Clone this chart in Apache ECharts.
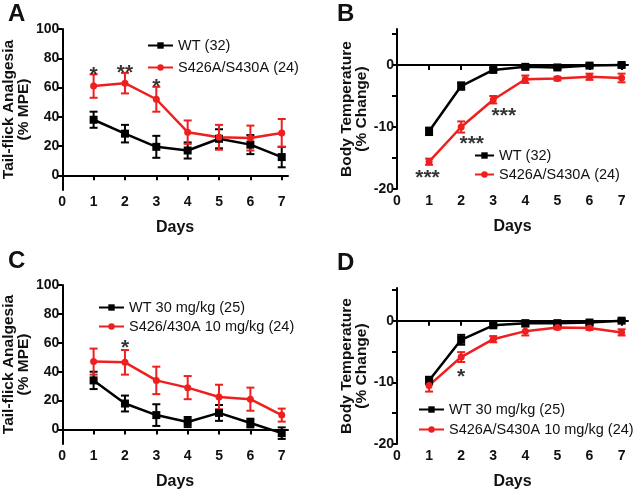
<!DOCTYPE html>
<html>
<head>
<meta charset="utf-8">
<script src="https://cdn.jsdelivr.net/npm/echarts@6/dist/echarts.min.js"></script>
<style>html,body{margin:0;padding:0;background:#fff;}#c{width:640px;height:491px;}</style>
</head>
<body>
<div id="c"></div>
<script>
// ---- data ----
const days = [1, 2, 3, 4, 5, 6, 7];
const xTicks = [0, 1, 2, 3, 4, 5, 6, 7];
const mpeTicks = [0, 20, 40, 60, 80, 100];
const tempLabelTicks = [-20, -10, 0];
const tempMinorTicks = [-20, -15, -10, -5, 0, 5];

// Panel A
const aNames = ['WT (32)', 'S426A/S430A (24)'];
const aWT = [38, 28.5, 19.5, 17, 25, 21, 12.5];
const aWTerr = [5.5, 6, 7.5, 5.5, 6.5, 6.5, 7];
const aMut = [61, 63, 52, 29.5, 26, 25.5, 29];
const aMuterr = [8, 7, 8.5, 8, 8.5, 8.5, 9.5];
const aStars = [[1, 72, '*'], [2, 73, '**'], [3, 63.5, '*']];

// Panel B
const bNames = ['WT (32)', 'S426A/S430A (24)'];
const bWT = [-10.7, -3.4, -0.8, -0.3, -0.4, -0.1, 0];
const bWTerr = [0.6, 0.6, 0.25, 0.25, 0.25, 0.25, 0.25];
const bMut = [-15.6, -10, -5.6, -2.3, -2.2, -1.9, -2.1];
const bMuterr = [0.5, 0.9, 0.6, 0.6, 0.3, 0.5, 0.7];
const bStars = [[0.95, -17.4, '***'], [2.33, -12, '***'], [3.33, -7.5, '***']];

// Panel C
const cNames = ['WT 30 mg/kg (25)', 'S426/430A 10 mg/kg (24)'];
const cWT = [34, 18, 10, 5.2, 11.5, 4.5, -2.5];
const cWTerr = [6, 5.5, 7.5, 3.5, 5.5, 3, 4];
const cMut = [47, 46.5, 34, 29, 22.5, 21, 10];
const cMuterr = [9, 8.5, 9.5, 8, 8.5, 8, 4.5];
const cStars = [[2, 60, '*']];

// Panel D
const dNames = ['WT 30 mg/kg (25)', 'S426A/S430A 10 mg/kg (24)'];
const dWT = [-9.7, -3.1, -0.75, -0.4, -0.4, -0.3, 0];
const dWTerr = [0.6, 0.8, 0.25, 0.25, 0.25, 0.25, 0.25];
const dMut = [-10.5, -5.9, -3.0, -1.7, -1.1, -1.2, -1.9];
const dMuterr = [1.0, 0.8, 0.5, 0.7, 0.3, 0.3, 0.5];
const dStars = [[2, -8.3, '*']];

// ---- styling ----
const RED = '#ee1f1f';
const BLACK = '#000000';
const FONT = 'Liberation Sans, Arial, sans-serif';

const grids = [
  { left: 57, top: 29, width: 231, height: 161 },
  { left: 397, top: 29, width: 231, height: 160 },
  { left: 57, top: 285, width: 231, height: 160 },
  { left: 397, top: 288, width: 231, height: 157 }
];

function xAxis(i) {
  return {
    gridIndex: i, type: 'value', min: 0, max: 7.2,
    name: 'Days', nameLocation: 'middle', nameGap: 30,
    nameTextStyle: { fontFamily: FONT, fontWeight: 'bold', fontSize: 16, color: '#111' },
    axisLine: { lineStyle: { color: BLACK, width: 2 } },
    axisTick: { show: true, customValues: xTicks, length: 5, lineStyle: { color: BLACK, width: 2 } },
    axisLabel: { customValues: xTicks, fontFamily: FONT, fontWeight: 'bold', fontSize: 14, color: '#111', margin: 5 },
    splitLine: { show: false }
  };
}
function yAxisMPE(i) {
  return {
    gridIndex: i, type: 'value', min: -10, max: 100,
    name: 'Tail-flick Analgesia\n(% MPE)', nameLocation: 'middle', nameGap: 24, nameRotate: 90,
    nameTextStyle: { fontFamily: FONT, fontWeight: 'bold', fontSize: 15.5, color: '#111', lineHeight: 15 },
    axisLine: { onZero: false, lineStyle: { color: BLACK, width: 2 } },
    axisTick: { customValues: mpeTicks, length: 5, lineStyle: { color: BLACK, width: 2 } },
    axisLabel: { customValues: mpeTicks, fontFamily: FONT, fontWeight: 'bold', fontSize: 14, color: '#111', margin: 3 },
    splitLine: { show: false }
  };
}
function yAxisTemp(i, max) {
  return {
    gridIndex: i, type: 'value', min: -20, max: max,
    name: 'Body Temperature\n(% Change)', nameLocation: 'middle', nameGap: 26, nameRotate: 90,
    nameTextStyle: { fontFamily: FONT, fontWeight: 'bold', fontSize: 15.5, color: '#111', lineHeight: 15 },
    axisLine: { onZero: false, lineStyle: { color: BLACK, width: 2 } },
    axisTick: { customValues: tempMinorTicks, length: 5, lineStyle: { color: BLACK, width: 2 } },
    axisLabel: { customValues: tempLabelTicks, fontFamily: FONT, fontWeight: 'bold', fontSize: 14, color: '#111', margin: 3 },
    splitLine: { show: false }
  };
}

function lineSeries(name, i, vals, color, symbol, extra) {
  return Object.assign({
    name: name, type: 'line', xAxisIndex: i, yAxisIndex: i,
    data: days.map((d, k) => [d, vals[k]]),
    symbol: symbol, symbolSize: symbol === 'rect' ? 8 : 7,
    lineStyle: { color: color, width: 2.5 },
    itemStyle: { color: color },
    z: 3, animation: false
  }, extra || {});
}
function errSeries(i, vals, errs, color) {
  return {
    type: 'custom', xAxisIndex: i, yAxisIndex: i,
    data: days.map((d, k) => [d, vals[k], errs[k]]),
    renderItem: function (params, api) {
      const x = api.value(0), y = api.value(1), e = api.value(2);
      const top = api.coord([x, y + e]);
      const bot = api.coord([x, y - e]);
      const hw = 4;
      const st = { stroke: color, lineWidth: 2 };
      return {
        type: 'group',
        children: [
          { type: 'line', shape: { x1: top[0], y1: top[1], x2: bot[0], y2: bot[1] }, style: st },
          { type: 'line', shape: { x1: top[0] - hw, y1: top[1], x2: top[0] + hw, y2: top[1] }, style: st },
          { type: 'line', shape: { x1: bot[0] - hw, y1: bot[1], x2: bot[0] + hw, y2: bot[1] }, style: st }
        ]
      };
    },
    z: 2, animation: false, silent: true
  };
}
function starSeries(i, stars) {
  return {
    type: 'scatter', xAxisIndex: i, yAxisIndex: i,
    data: stars.map(s => ({ value: [s[0], s[1]], name: s[2] })),
    symbolSize: 0,
    label: {
      show: true, position: 'inside', formatter: p => p.name,
      fontFamily: FONT, fontSize: 21, fontWeight: 'bold', color: '#000',
      offset: [0, 5]
    },
    z: 5, animation: false, silent: true
  };
}
function legend(names, left, top, itemWidth, gap) {
  return {
    data: names, orient: 'vertical', left: left, top: top,
    itemWidth: itemWidth, itemHeight: 8, itemGap: gap,
    textStyle: { fontFamily: FONT, fontSize: 14.5, color: '#111', lineHeight: 14 },
    selectedMode: false
  };
}

const series = [
  errSeries(0, aWT, aWTerr, BLACK),
  lineSeries(aNames[0], 0, aWT, BLACK, 'rect'),
  errSeries(0, aMut, aMuterr, RED),
  lineSeries(aNames[1], 0, aMut, RED, 'circle'),
  starSeries(0, aStars),

  errSeries(1, bWT, bWTerr, BLACK),
  lineSeries(bNames[0], 1, bWT, BLACK, 'rect'),
  errSeries(1, bMut, bMuterr, RED),
  lineSeries(bNames[1], 1, bMut, RED, 'circle'),
  starSeries(1, bStars),

  errSeries(2, cWT, cWTerr, BLACK),
  lineSeries(cNames[0], 2, cWT, BLACK, 'rect'),
  errSeries(2, cMut, cMuterr, RED),
  lineSeries(cNames[1], 2, cMut, RED, 'circle'),
  starSeries(2, cStars),

  errSeries(3, dWT, dWTerr, BLACK),
  lineSeries(dNames[0], 3, dWT, BLACK, 'rect', {
    markLine: {
      silent: true, symbol: 'none', label: { show: false },
      lineStyle: { color: BLACK, type: 'dotted', width: 1 },
      data: [{ yAxis: 0 }], animation: false
    }
  }),
  errSeries(3, dMut, dMuterr, RED),
  lineSeries(dNames[1], 3, dMut, RED, 'circle'),
  starSeries(3, dStars)
];

const letters = [['A', 8, 2], ['B', 337, 2], ['C', 8, 249], ['D', 337, 251]];

const chart = echarts.init(document.getElementById('c'), null, { renderer: 'canvas' });
chart.setOption({
  animation: false,
  backgroundColor: '#ffffff',
  grid: grids,
  xAxis: [xAxis(0), xAxis(1), xAxis(2), xAxis(3)],
  yAxis: [yAxisMPE(0), yAxisTemp(1, 5.8), yAxisMPE(2), yAxisTemp(3, 5.3)],
  legend: [
    legend(aNames, 142, 33, 25, 7),
    legend(bNames, 469, 143, 19, 4),
    legend(cNames, 93, 295, 25, 4),
    legend(dNames, 413, 397, 25, 5)
  ],
  graphic: letters.map(l => ({
    type: 'text', left: l[1], top: l[2],
    style: { text: l[0], font: 'bold 24px ' + FONT, fill: '#111' }
  })),
  series: series
});
</script>
</body>
</html>
